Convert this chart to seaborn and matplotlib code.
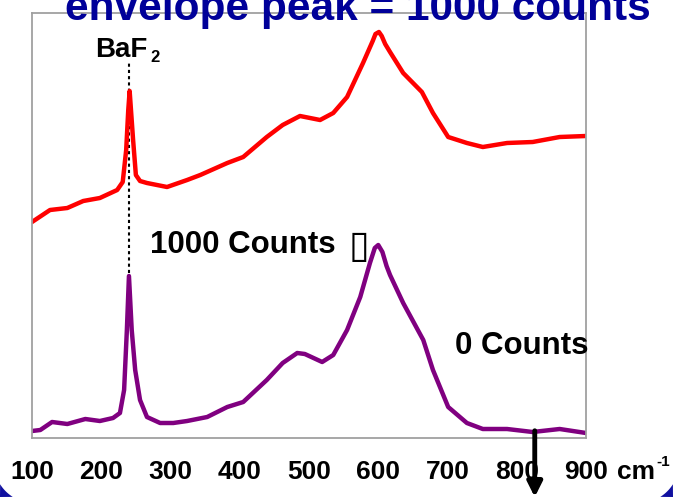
import matplotlib
matplotlib.use("Agg")
import matplotlib.pyplot as plt
import seaborn as sns
import pandas as pd
import numpy as np
from matplotlib.patches import Polygon

# ---- data (y in arbitrary count units) ----
purple_x = [100, 112, 129, 151, 177, 198, 217, 227, 233, 237, 240, 244, 249, 256, 266,
            285, 304, 324, 353, 382, 405, 439, 462, 483, 494, 519, 535, 555, 574, 588,
            595, 600, 606, 612, 617, 636, 665, 679, 701, 728, 751, 786, 823, 862, 900]
purple_y = [7, 8, 16, 14, 19, 17, 20, 25, 48, 108, 162, 108, 68, 38, 21,
            15, 15, 17, 21, 31, 36, 58, 75, 85, 84, 76, 83, 108, 141, 175,
            190, 193, 186, 172, 163, 135, 98, 68, 31, 15, 9, 9, 6, 9, 5]
red_x = [100, 126, 151, 174, 198, 223, 231, 236, 239, 241, 246, 250, 256, 266, 295,
         324, 343, 382, 405, 439, 462, 487, 516, 535, 555, 578, 592, 596, 601, 605,
         610, 617, 636, 663, 679, 701, 728, 751, 786, 823, 862, 900]
red_y = [216, 228, 230, 237, 240, 248, 256, 288, 328, 347, 298, 263, 257, 255, 251,
         258, 263, 275, 281, 301, 313, 322, 318, 325, 341, 375, 397, 404, 406, 402,
         394, 386, 365, 346, 325, 301, 295, 291, 295, 296, 301, 302]
tick_values = [100, 200, 300, 400, 500, 600, 700, 800, 900]
tick_labels = ["100", "200", "300", "400", "500", "600", "700", "800", "900"]
baf2_position = 240
title_text = "envelope peak = 1000 counts"

sns.set_style("white")
plt.rcParams["font.family"] = ["Liberation Sans", "DejaVu Sans"]
plt.rcParams["text.color"] = "black"

W, H = 673, 497
fig = plt.figure(figsize=(W / 100, H / 100), dpi=100)
fig.patch.set_facecolor("white")

# blue slide-frame corners at the bottom (outside a rounded white area)
R, d = 40.0, 6.0
ang = np.linspace(np.pi, 1.5 * np.pi, 200)
ax_pts = (R - d) + R * np.cos(ang)
ay_pts = (R - d) + R * np.sin(ang)
keep = (ax_pts >= 0) & (ay_pts >= 0)
left_corner = [(0, 0)] + [(x / W, y / H) for x, y in zip(ax_pts[keep], ay_pts[keep])]
right_corner = [(1, 0)] + [(1 - x / W, y / H) for x, y in zip(ax_pts[keep], ay_pts[keep])]
for pts in (left_corner, right_corner):
    fig.patches.append(Polygon(pts, closed=True, transform=fig.transFigure,
                               facecolor="#1010a0", edgecolor="none", zorder=-2))

ax = fig.add_axes([32 / W, (H - 438) / H, (586 - 32) / W, (438 - 13) / H])
ax.set_facecolor("white")

df_p = pd.DataFrame({"x": purple_x, "y": purple_y})
df_r = pd.DataFrame({"x": red_x, "y": red_y})
sns.lineplot(data=df_r, x="x", y="y", color="#ff0000", lw=3.2, ax=ax, sort=False,
             solid_joinstyle="round", solid_capstyle="round")
sns.lineplot(data=df_p, x="x", y="y", color="#800080", lw=3.2, ax=ax, sort=False,
             solid_joinstyle="round", solid_capstyle="round")

ax.set_xlim(100, 900)
ax.set_ylim(0, 425)
ax.set_xlabel("")
ax.set_ylabel("")
ax.set_yticks([])
ax.set_xticks(tick_values)
ax.set_xticklabels(tick_labels, fontsize=19, fontweight="bold", color="black")
ax.tick_params(axis="x", direction="out", length=5, width=1, color="#a0a0a0", pad=11,
               labelcolor="black")
for s in ax.spines.values():
    s.set_color("#a0a0a0")
    s.set_linewidth(1.3)
    s.set_visible(True)

# BaF2 dotted line and labels
ax.plot([baf2_position, baf2_position], [115, 376], ls=(0, (1.5, 1.5)), color="black",
        lw=1.5, zorder=1)
baf = ax.text(191, 381, "BaF", fontsize=20, fontweight="bold", ha="left", va="baseline",
              color="black")
ax.annotate("2", xy=(1.0, 0.0), xycoords=baf, xytext=(2, -1.5), textcoords="offset points",
            fontsize=12, fontweight="bold", ha="left", va="bottom", color="black")
ax.text(270, 185, "1000 Counts", fontsize=22.5, fontweight="bold", ha="left", va="baseline",
        color="black")
ax.text(557, 181, "\u25af", fontsize=27, family=["DejaVu Sans"], fontweight="normal",
        ha="left", va="baseline", color="black")
ax.text(711, 84, "0 Counts", fontsize=22.5, fontweight="bold", ha="left", va="baseline",
        zorder=5, color="black")

# unit label after the last tick
fig.text(617 / W, (H - 479) / H, "cm", fontsize=19, fontweight="bold",
         ha="left", va="baseline", color="black")
fig.text(656 / W, (H - 466) / H, "-1", fontsize=11, fontweight="bold",
         ha="left", va="baseline", color="black")

# arrow
ax.annotate("", xy=(826, -0.139), xycoords=("data", "axes fraction"),
            xytext=(826, 0.017), textcoords=("data", "axes fraction"),
            arrowprops=dict(arrowstyle="-|>", lw=3.5, color="black", mutation_scale=22,
                            shrinkA=0, shrinkB=0),
            annotation_clip=False, zorder=10)

# title (cut off at the top, as in the original slide)
fig.text((64 + 651) / 2 / W, (H - 20) / H, title_text, fontsize=30.5, fontweight="bold",
         color="#000099", ha="center", va="baseline", zorder=10)

fig.savefig("out.png", dpi=100)
